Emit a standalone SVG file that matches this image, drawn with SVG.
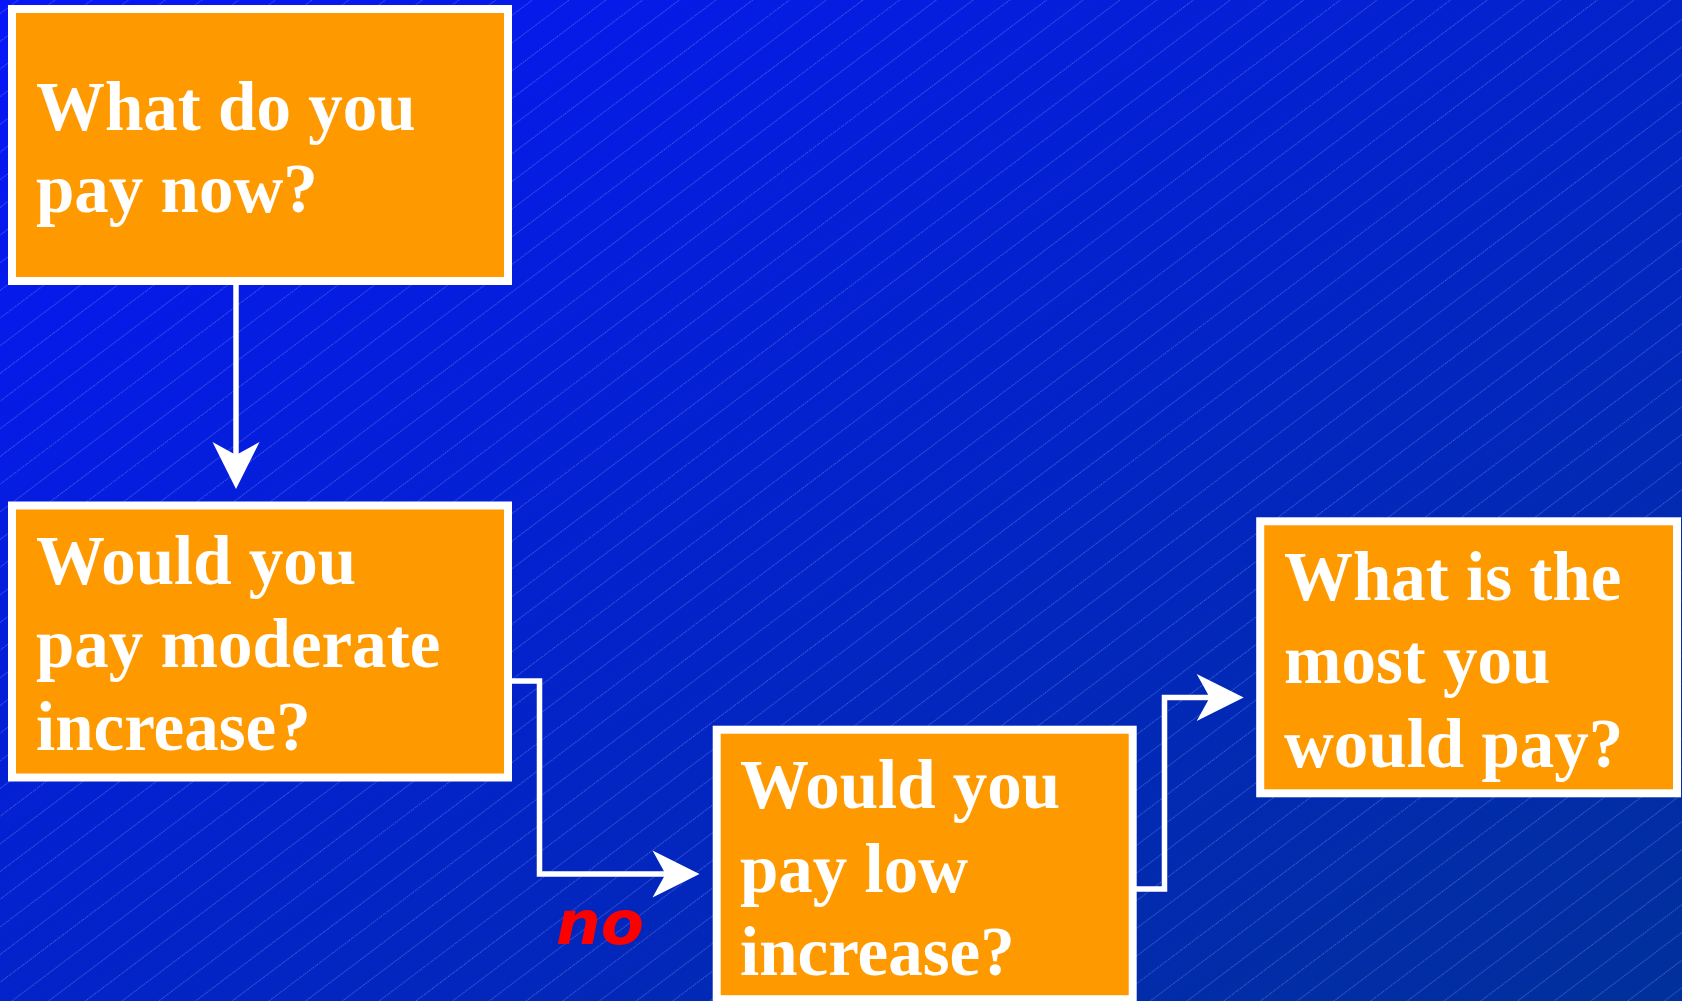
<svg xmlns="http://www.w3.org/2000/svg" width="1682" height="1001" viewBox="0 0 1682 1001">
  <defs>
    <linearGradient id="bg" x1="0" y1="0" x2="1" y2="1">
      <stop offset="0" stop-color="#0716F8"/>
      <stop offset="1" stop-color="#00309B"/>
    </linearGradient>
    <pattern id="hatch" patternUnits="userSpaceOnUse" width="100" height="22.1" patternTransform="rotate(-37)">
      <line x1="0" y1="11" x2="100" y2="11" stroke="#9DB0FF" stroke-opacity="0.45" stroke-width="0.9" stroke-dasharray="1.5 1"/>
    </pattern>
    <marker id="arrow" viewBox="-20 -25 52 50" markerWidth="52" markerHeight="50" refX="0" refY="0" markerUnits="userSpaceOnUse" orient="auto">
      <path d="M30,0 L-17,-23.5 L-4,0 L-17,23.5 Z" fill="#FFFFFF"/>
    </marker>
  </defs>
  <style>
    .box { fill: #FF9900; stroke: #FFFFFF; stroke-width: 8; }
    .lbl { font-family: "Liberation Serif", "Times New Roman", serif; font-weight: bold; font-size: 69px; fill: #FFFFFF; }
    .conn { fill: none; stroke: #FFFFFF; stroke-width: 5.5; marker-end: url(#arrow); }
    .no { font-family: "DejaVu Sans", Verdana, sans-serif; font-weight: bold; font-style: italic; font-size: 60px; fill: #FF0000; }
  </style>

  <rect x="0" y="0" width="1682" height="1001" fill="url(#bg)"/>
  <rect x="0" y="0" width="1682" height="1001" fill="url(#hatch)"/>

  <g id="connectors">
    <path class="conn" d="M236,281 V459"/>
    <path class="conn" d="M508,681 H539.5 V874 H669.5"/>
    <path class="conn" d="M1136,889 H1164.5 V697.5 H1213.7"/>
    <text class="no" x="556" y="944" textLength="88" lengthAdjust="spacingAndGlyphs">no</text>
  </g>

  <g id="node-pay-now">
    <rect class="box" x="12" y="9" width="496" height="272"/>
    <text class="lbl" x="36" y="130">What do you</text>
    <text class="lbl" x="36" y="212">pay now?</text>
  </g>

  <g id="node-moderate">
    <rect class="box" x="12" y="505.5" width="496" height="272"/>
    <text class="lbl" x="36" y="584">Would you</text>
    <text class="lbl" x="36" y="667">pay moderate</text>
    <text class="lbl" x="36" y="750">increase?</text>
  </g>

  <g id="node-low">
    <rect class="box" x="716.7" y="729.7" width="416" height="269.5"/>
    <text class="lbl" x="740" y="808">Would you</text>
    <text class="lbl" x="740" y="892">pay low</text>
    <text class="lbl" x="740" y="975">increase?</text>
  </g>

  <g id="node-most">
    <rect class="box" x="1260.2" y="521.3" width="416.8" height="272"/>
    <text class="lbl" x="1284" y="600">What is the</text>
    <text class="lbl" x="1284" y="683">most you</text>
    <text class="lbl" x="1284" y="767">would pay?</text>
  </g>
</svg>
